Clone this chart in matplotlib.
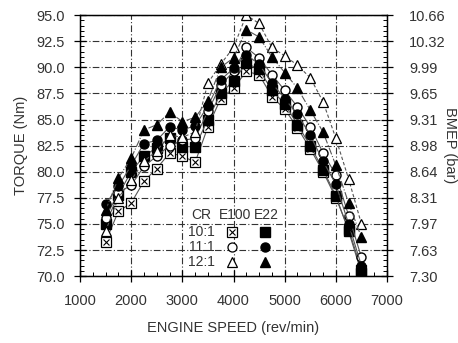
import numpy as np
import matplotlib.pyplot as plt
from matplotlib.ticker import MultipleLocator

plt.rcParams['font.family'] = ['Liberation Sans', 'DejaVu Sans']

# データ
speed = [1500, 1750, 2000, 2250, 2500, 2750, 3000, 3250, 3500, 3750, 4000,
         4250, 4500, 4750, 5000, 5250, 5500, 5750, 6000, 6250, 6500]

e100_10 = [73.3, 76.2, 77.0, 79.1, 80.3, 81.8, 81.5, 80.9, 84.3, 87.0, 88.0,
           89.6, 89.3, 87.2, 86.0, 84.2, 82.2, 80.0, 77.5, 74.5, 70.6]
e22_10 = [75.0, 77.8, 80.0, 81.5, 82.3, 83.2, 82.4, 82.4, 85.0, 87.5, 88.7,
          90.4, 89.8, 87.8, 86.5, 84.5, 82.5, 80.2, 77.7, 74.3, 70.3]
e100_11 = [75.6, 78.0, 78.7, 80.5, 81.5, 82.5, 83.0, 83.2, 85.8, 88.3, 89.6,
           91.9, 90.9, 89.3, 87.8, 86.2, 84.3, 81.8, 79.7, 75.8, 71.8]
e22_11 = [76.9, 78.6, 80.6, 82.7, 83.0, 84.3, 84.0, 84.4, 86.3, 88.8, 89.9,
          91.2, 90.3, 88.5, 87.0, 85.5, 83.5, 81.0, 78.8, 75.0, 71.0]
e100_12 = [74.3, 77.5, 79.2, 81.0, 82.0, 83.5, 83.3, 83.8, 88.5, 90.3, 91.9,
           95.0, 94.2, 91.9, 91.1, 90.2, 89.0, 86.7, 83.2, 79.3, 75.0]
e22_12 = [76.3, 79.4, 81.3, 84.0, 84.5, 85.7, 84.8, 85.2, 86.8, 90.0, 90.9,
          93.6, 92.9, 91.0, 89.5, 88.0, 85.9, 83.8, 80.6, 77.0, 73.7]

torque_ticks = [70.0, 72.5, 75.0, 77.5, 80.0, 82.5, 85.0, 87.5, 90.0, 92.5, 95.0]
bmep_labels = ['7.30', '7.63', '7.97', '8.31', '8.64', '8.98',
               '9.31', '9.65', '9.99', '10.32', '10.66']
cr_labels = ['10:1', '11:1', '12:1']

fig = plt.figure(figsize=(4.58, 3.43), dpi=100)
ax = fig.add_axes([0.1747, 0.195, 0.6703, 0.761])

lc = '#555555'
ms = 6.5
# E100 10:1 は四角に×印
ax.plot(speed, e100_10, color=lc, lw=0.8, ls='-', marker='s', ms=ms,
        mfc='white', mec='black', mew=0.9, zorder=3)
ax.plot(speed, e100_10, ls='none', marker='x', ms=ms * 0.7, mec='black',
        mew=0.8, zorder=4)
ax.plot(speed, e22_10, color=lc, lw=0.8, ls='-', marker='s', ms=ms,
        mfc='black', mec='black', zorder=3)
ax.plot(speed, e100_11, color=lc, lw=0.8, ls='-', marker='o', ms=ms,
        mfc='white', mec='black', mew=1.0, zorder=3)
ax.plot(speed, e22_11, color=lc, lw=0.8, ls='-', marker='o', ms=ms,
        mfc='black', mec='black', zorder=3)
ax.plot(speed, e100_12, color=lc, lw=0.8, ls=(0, (3, 2)), marker='^', ms=ms,
        mfc='white', mec='black', mew=0.9, zorder=3)
ax.plot(speed, e22_12, color=lc, lw=0.8, ls='-.', marker='^', ms=ms,
        mfc='black', mec='black', zorder=3)

ax.set_xlim(1000, 7000)
ax.set_ylim(70, 95)
ax.xaxis.set_major_locator(MultipleLocator(1000))
ax.xaxis.set_minor_locator(MultipleLocator(250))
ax.set_yticks(torque_ticks)
ax.set_yticklabels([f'{t:.1f}' for t in torque_ticks])
ax.yaxis.set_minor_locator(MultipleLocator(0.5))
ax.grid(True, which='major', color='#333333', lw=0.8, ls=(0, (6, 2, 1, 2)))
ax.set_axisbelow(True)

ax.tick_params(which='major', direction='inout', length=8, width=0.9,
               labelsize=10.5, colors='black', labelcolor='#333333')
ax.tick_params(which='minor', direction='in', length=3, width=0.7)
ax.tick_params(axis='y', which='major', pad=7)
ax.tick_params(axis='x', which='major', pad=9)
for s in ax.spines.values():
    s.set_linewidth(1.0)

ax.set_xlabel('ENGINE SPEED (rev/min)', fontsize=10.5, color='#333333',
              labelpad=9)
ax.set_ylabel('TORQUE (Nm)', fontsize=10.5, color='#333333', labelpad=6)

ax2 = ax.twinx()
ax2.set_ylim(70, 95)
ax2.set_yticks(torque_ticks)
ax2.set_yticklabels(bmep_labels)
ax2.yaxis.set_minor_locator(MultipleLocator(0.5))
ax2.tick_params(which='major', direction='inout', length=8, width=0.9,
                labelsize=10.5, labelcolor='#333333', pad=12)
ax2.tick_params(which='minor', direction='in', length=3, width=0.7)
ax2.set_ylabel('BMEP (bar)', fontsize=10.5, color='#333333', rotation=-90,
               labelpad=8)

# 凡例（表形式）
tf = ax.transAxes
tkw = dict(transform=tf, fontsize=10, color='#333333', ha='center', va='center')
ax.text(0.396, 0.236, 'CR', **tkw)
ax.text(0.505, 0.236, 'E100', **tkw)
ax.text(0.608, 0.236, 'E22', **tkw)
rows_y = [0.170, 0.112, 0.055]
shapes = ['s', 'o', '^']
for lab, yy, mk in zip(cr_labels, rows_y, shapes):
    ax.text(0.396, yy, lab, **tkw)
    ax.plot([0.494], [yy], transform=tf, marker=mk, ms=ms, mfc='white',
            mec='black', mew=0.9, ls='none', zorder=5)
    if mk == 's':
        ax.plot([0.494], [yy], transform=tf, marker='x', ms=ms * 0.7,
                mec='black', mew=0.8, ls='none', zorder=6)
    ax.plot([0.603], [yy], transform=tf, marker=mk, ms=ms, mfc='black',
            mec='black', ls='none', zorder=5)

fig.savefig('out.png', dpi=100)
